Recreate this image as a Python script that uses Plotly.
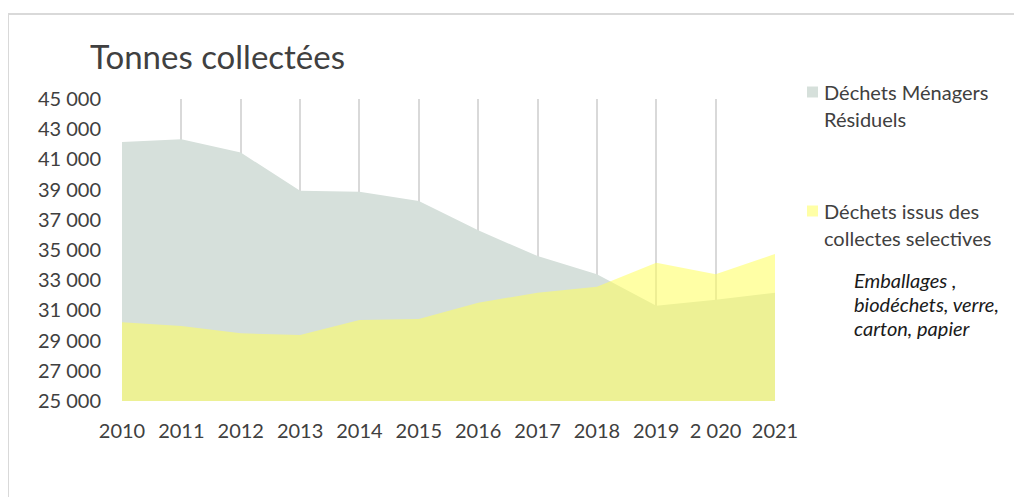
import plotly.graph_objects as go

FONT = "Lato"
TXT = "#404040"

years = [2010, 2011, 2012, 2013, 2014, 2015, 2016, 2017, 2018, 2019, 2020, 2021]
year_labels = ["2010", "2011", "2012", "2013", "2014", "2015", "2016", "2017",
               "2018", "2019", "2 020", "2021"]

# Déchets Ménagers Résiduels (tonnes)
dmr = [42150, 42330, 41450, 38930, 38850, 38250, 36300, 34600, 33400, 31300, 31700, 32170]
# Déchets issus des collectes sélectives (tonnes)
selectives = [30210, 29970, 29480, 29370, 30370, 30430, 31510, 32170, 32570, 34160, 33390, 34740]

y_ticks = list(range(25000, 45001, 2000))

# the page body adds an 8px margin, so the figure is drawn 8px smaller
# and every pixel position below is taken from the reference minus 8
OFF = 8
W, H = 1022 - OFF, 497 - OFF
L, R, T, B = 122 - OFF, 1022 - 775, 99 - OFF, 497 - 401
PW, PH = W - L - R, H - T - B


def px(x):
    return (x - OFF - L) / PW


def py(y):
    return (H - B - (y - OFF)) / PH


fig = go.Figure()

fig.add_trace(go.Scatter(
    x=years, y=dmr, name="Déchets Ménagers Résiduels",
    fill="tozeroy", fillcolor="#D6E0DB", mode="lines",
    line=dict(width=0, color="#D6E0DB"), hoverinfo="x+y",
))
fig.add_trace(go.Scatter(
    x=years, y=selectives, name="Déchets issus des collectes selectives",
    fill="tozeroy", fillcolor="rgba(255,255,95,0.56)", mode="lines",
    line=dict(width=0, color="rgba(255,255,95,0.56)"), hoverinfo="x+y",
))

fig.update_layout(
    width=W, height=H,
    margin=dict(l=L, r=R, t=T, b=B),
    paper_bgcolor="white", plot_bgcolor="white",
    showlegend=False,
    separators=", ",
    font=dict(family=FONT, color=TXT),
    title=dict(text="Tonnes collectées", x=(90 - OFF) / W, xref="container", xanchor="left",
               y=1 - (57 - OFF) / H, yref="container", yanchor="middle",
               font=dict(size=33, color=TXT, family=FONT)),
)

fig.update_xaxes(
    range=[2010, 2021], tickvals=years, ticktext=year_labels,
    showgrid=True, gridcolor="#D9D9D9", gridwidth=1.5,
    zeroline=False, showline=False, ticks="",
    tickfont=dict(size=20, color=TXT), ticklabelstandoff=16,
)
fig.update_yaxes(
    range=[25000, 45000], tickvals=y_ticks, tickformat=",d",
    showgrid=False, zeroline=False, showline=False, ticks="",
    tickfont=dict(size=20, color=TXT), ticklabelstandoff=20,
)

# legend drawn by hand to match the layout of the original
legend = [
    ("#D6E0DB", 92, ["Déchets Ménagers", "Résiduels"]),
    ("#FFFFA6", 211, ["Déchets issus des", "collectes selectives"]),
]
for color, yc, lines in legend:
    fig.add_shape(type="rect", xref="paper", yref="paper",
                  x0=px(807), x1=px(818), y0=py(yc + 5.5), y1=py(yc - 5.5),
                  fillcolor=color, line=dict(width=0))
    for i, line in enumerate(lines):
        fig.add_annotation(text=line, xref="paper", yref="paper",
                           x=px(822), y=py(yc + i * 26.5), xanchor="left", yanchor="middle",
                           showarrow=False, font=dict(size=20, color=TXT, family=FONT))

note = ["Emballages ,", "biodéchets, verre,", "carton, papier"]
for i, line in enumerate(note):
    fig.add_annotation(text=f"<i>{line}</i>", xref="paper", yref="paper",
                       x=px(852), y=py(280 + i * 24), xanchor="left", yanchor="middle",
                       showarrow=False, font=dict(size=20, color="#1a1a1a", family=FONT))

# light frame around the chart
fig.add_shape(type="rect", xref="paper", yref="paper",
              x0=px(8), x1=px(1040), y0=py(520), y1=py(14),
              line=dict(color="#D9D9D9", width=2), fillcolor="rgba(0,0,0,0)", layer="below")

fig.write_html("out.html")
